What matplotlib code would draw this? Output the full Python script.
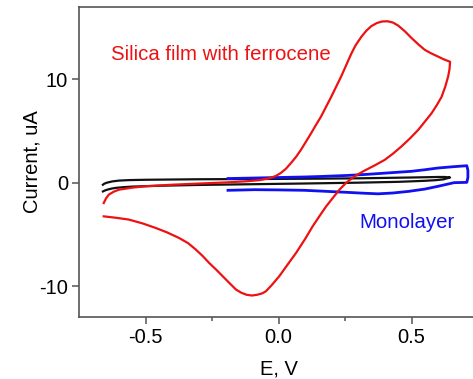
import matplotlib
matplotlib.use("Agg")
import matplotlib.pyplot as plt
from matplotlib.ticker import FixedLocator

plt.rcParams['font.family'] = ['Liberation Sans', 'DejaVu Sans']
plt.rcParams['axes.unicode_minus'] = False

# Silica film with ferrocene: cyclic voltammogram (E in V, I in uA)
film_E = [-0.657, -0.61, -0.563, -0.51, -0.462, -0.42, -0.374, -0.34, -0.311,
          -0.285, -0.261, -0.235, -0.21, -0.185, -0.16, -0.14, -0.12, -0.1,
          -0.08, -0.06, -0.047, -0.025, 0.003, 0.035, 0.066, 0.1, 0.129, 0.155,
          0.179, 0.205, 0.23, 0.255, 0.285, 0.32, 0.36, 0.399, 0.43, 0.462,
          0.495, 0.525, 0.55, 0.575, 0.595, 0.613, 0.627, 0.638, 0.643, 0.645,
          0.62, 0.60, 0.575, 0.55, 0.525, 0.50, 0.475, 0.45, 0.43, 0.41, 0.39,
          0.37, 0.349, 0.33, 0.311, 0.29, 0.274, 0.255, 0.236, 0.217, 0.198,
          0.179, 0.16, 0.14, 0.123, 0.104, 0.085, 0.066, 0.047, 0.028, 0.009,
          -0.01, -0.035, -0.07, -0.123, -0.2, -0.311, -0.4, -0.5, -0.55, -0.60,
          -0.62, -0.638, -0.648, -0.657]
film_I = [-3.26, -3.4, -3.57, -3.95, -4.38, -4.8, -5.35, -5.85, -6.47,
          -7.1, -7.76, -8.4, -9.05, -9.7, -10.34, -10.65, -10.85, -10.92,
          -10.85, -10.7, -10.5, -9.9, -9.05, -7.9, -6.8, -5.45, -4.2, -3.2,
          -2.3, -1.45, -0.65, 0.0, 0.6, 1.12, 1.65, 2.2, 2.8, 3.5,
          4.3, 5.1, 5.9, 6.7, 7.5, 8.3, 9.3, 10.3, 11.0, 11.7,
          11.95, 12.2, 12.5, 12.85, 13.4, 14.0, 14.65, 15.2, 15.5, 15.62, 15.6,
          15.45, 15.15, 14.7, 14.1, 13.3, 12.5, 11.4, 10.3, 9.3, 8.3,
          7.35, 6.4, 5.55, 4.8, 4.0, 3.2, 2.5, 1.9, 1.35, 0.94,
          0.65, 0.42, 0.25, 0.13, 0.02, -0.1, -0.2, -0.35, -0.48, -0.68,
          -0.88, -1.16, -1.5, -1.97]

# Bare electrode background
bare_E = [-0.66, -0.652, -0.64, -0.625, -0.61, -0.58, -0.55, -0.45, -0.3,
          -0.1, 0.1, 0.3, 0.45, 0.55, 0.59, 0.62, 0.645, 0.625, 0.6, 0.5, 0.3,
          0.1, -0.1, -0.3, -0.5, -0.56, -0.6, -0.625, -0.645, -0.655, -0.66]
bare_I = [-0.85, -0.75, -0.65, -0.56, -0.5, -0.43, -0.38, -0.3, -0.22,
          -0.15, -0.08, 0.0, 0.08, 0.18, 0.24, 0.32, 0.5, 0.55, 0.55, 0.5, 0.42,
          0.38, 0.35, 0.33, 0.28, 0.25, 0.2, 0.12, 0.0, -0.1, -0.2]

# Monolayer
mono_E = [-0.19, -0.09, 0.0, 0.097, 0.16, 0.26, 0.33, 0.41, 0.50, 0.55, 0.60,
          0.66, 0.708, 0.712, 0.712, 0.708, 0.66, 0.60, 0.55, 0.49, 0.43,
          0.374, 0.32, 0.26, 0.18, 0.097, 0.0, -0.09, -0.19]
mono_I = [0.4, 0.45, 0.5, 0.55, 0.6, 0.7, 0.8, 0.94, 1.1, 1.25, 1.42,
          1.55, 1.64, 1.2, 0.5, 0.03, 0.0, -0.35, -0.62, -0.84, -1.0,
          -1.08, -1.02, -0.94, -0.84, -0.74, -0.7, -0.68, -0.74]

x_ticks = [-0.5, 0.0, 0.5]
x_minor = [-0.25, 0.25]
y_ticks = [-10, 0, 10]

W, H = 473, 379
fig = plt.figure(figsize=(W / 100, H / 100), dpi=100)
ax = fig.add_axes([79 / W, 62 / H, 399 / W, 310 / H])

ax.plot(bare_E, bare_I, color='#111111', lw=1.6, zorder=2,
        solid_joinstyle='round')
ax.plot(mono_E, mono_I, color='#1010f0', lw=2.0, zorder=3,
        solid_joinstyle='round')
ax.plot(film_E, film_I, color='#ee1111', lw=1.6, zorder=4,
        solid_joinstyle='round')

ax.set_xlim(-0.75, 0.75)
ax.set_ylim(-13, 17)
ax.xaxis.set_major_locator(FixedLocator(x_ticks))
ax.xaxis.set_minor_locator(FixedLocator(x_minor))
ax.yaxis.set_major_locator(FixedLocator(y_ticks))
ax.set_xticklabels(['-0.5', '0.0', '0.5'])
ax.set_yticklabels(['-10', '0', '10'])

for sp in ax.spines.values():
    sp.set_color('#555555')
    sp.set_linewidth(1.2)
ax.tick_params(which='major', direction='out', length=5, width=1.1,
               color='#555555', labelsize=14.5, pad=3)
ax.tick_params(which='minor', direction='out', length=3, width=1.1,
               color='#555555')

ax.set_xlabel('E, V', fontsize=14.5, labelpad=9)
ax.set_ylabel('Current, uA', fontsize=14.5, labelpad=-2)

ax.text(-0.628, 12.4, 'Silica film with ferrocene', color='#ee1111',
        fontsize=14.7, ha='left', va='center')
ax.text(0.304, -3.86, 'Monolayer', color='#1010f0',
        fontsize=14.7, ha='left', va='center')

fig.savefig('out.png', dpi=100)
